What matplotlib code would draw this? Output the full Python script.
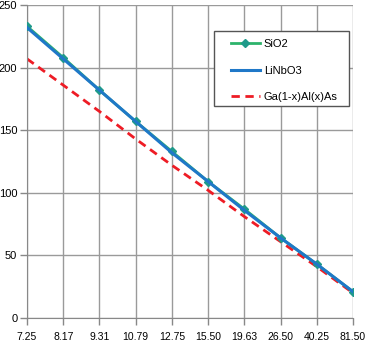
import matplotlib
matplotlib.use("Agg")
import matplotlib.pyplot as plt
from matplotlib.patches import Rectangle
from matplotlib import font_manager

plt.rcParams['font.family'] = ['Liberation Sans', 'DejaVu Sans']
names = {f.name for f in font_manager.fontManager.ttflist}
narrow = 'Liberation Sans Narrow' if 'Liberation Sans Narrow' in names else 'Liberation Sans'

categories = ["7.25", "8.17", "9.31", "10.79", "12.75", "15.50", "19.63", "26.50", "40.25", "81.50"]
sio2 = [233, 208, 182, 157, 133, 109, 87, 64, 43, 21]
linbo3 = [232, 207, 182, 157, 132, 109, 86, 64, 43, 21]
gaalas = [207, 186, 165, 143, 122, 102, 81, 61, 41, 20]
yticks = [0, 50, 100, 150, 200, 250]

W, H = 368, 343
fig = plt.figure(figsize=(W/100, H/100), dpi=100)
ax = fig.add_axes([27/W, 25/H, (353-27)/W, (318-5)/H])

x = list(range(len(categories)))
ax.plot(x, sio2, color='#2db36b', lw=2, marker='D', ms=4.5, mfc='#1f9a8a', mec='#1f9a8a', label='SiO2', zorder=3)
ax.plot(x, linbo3, color='#1f78c8', lw=2.2, label='LiNbO3', zorder=4)
ax.plot(x, gaalas, color='#ee1c25', lw=2, ls=(0, (3, 2)), label='Ga(1-x)Al(x)As', zorder=2)

ax.set_xlim(0, len(categories) - 1)
ax.set_ylim(0, 250)
ax.set_xticks(x)
ax.set_xticklabels(categories, fontfamily=narrow, fontsize=7.5)
ax.set_yticks(yticks)
ax.grid(True, color='#9a9a9a', lw=1)
ax.set_axisbelow(True)
for s in ['top', 'right']:
    ax.spines[s].set_visible(False)
for s in ['left', 'bottom']:
    ax.spines[s].set_color('#888888')
ax.tick_params(axis='both', colors='#888888', labelcolor='black', length=5, width=1)
ax.tick_params(axis='y', labelsize=8, pad=2)
ax.tick_params(axis='x', pad=5)

box = Rectangle((214/W, 1 - 106/H), (349-214)/W, (106-31)/H, transform=fig.transFigure,
                facecolor='white', edgecolor='#555555', lw=1, zorder=5, clip_on=False)
ax.add_patch(box)
leg = ax.legend(loc='upper left', bbox_to_anchor=(231/W, 1 - 39/H), bbox_transform=fig.transFigure,
                fontsize=8, frameon=False, handlelength=2.6, labelspacing=1.5, borderpad=0,
                handletextpad=0.35, borderaxespad=0)
leg.set_zorder(6)

fig.savefig("out.png", dpi=100)
